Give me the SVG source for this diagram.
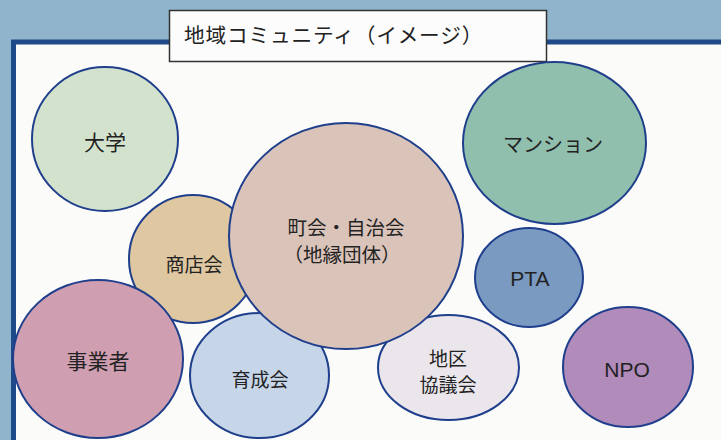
<svg xmlns="http://www.w3.org/2000/svg" width="721" height="440" viewBox="0 0 721 440">
  <style>
    .t { font-family: "Noto Sans CJK JP", "Liberation Sans", sans-serif; font-size: 20px; fill: #222; text-anchor: middle; dominant-baseline: central; }
    .l { font-family: "Liberation Sans", "Noto Sans CJK JP", sans-serif; font-size: 21px; fill: #222; text-anchor: middle; dominant-baseline: central; }
    .c { stroke: #1f3f8c; stroke-width: 2; }
  </style>
  <rect x="0" y="0" width="721" height="440" fill="#8fb4cb"/>
  <rect x="13.5" y="42" width="720" height="410" fill="#fbfbfa" stroke="#1f4a8a" stroke-width="5"/>
  <g id="title">
    <rect x="169.5" y="10.5" width="377" height="51" fill="#fdfcfc" stroke="#333" stroke-width="1.5"/>
    <text class="t" x="184" y="34" style="text-anchor:start;font-size:20.7px;letter-spacing:0.8px">地域コミュニティ（イメージ）</text>
  </g>
  <g id="daigaku">
    <ellipse class="c" cx="105" cy="139" rx="73" ry="72" fill="#d2e2cd"/>
    <text class="t" x="105" y="141" style="font-size:21px">大学</text>
  </g>
  <g id="mansion">
    <ellipse class="c" cx="554.5" cy="143" rx="91.5" ry="81" fill="#91bfae"/>
    <text class="t" x="553" y="143">マンション</text>
  </g>
  <g id="shotenkai">
    <ellipse class="c" cx="193" cy="259" rx="64" ry="64" fill="#dfc8a1"/>
    <text class="t" x="194" y="263" style="font-size:19px">商店会</text>
  </g>
  <g id="jigyosha">
    <ellipse class="c" cx="98" cy="359" rx="85" ry="79" fill="#cf9fb1"/>
    <text class="t" x="98" y="360" style="font-size:21px">事業者</text>
  </g>
  <g id="ikuseikai">
    <ellipse class="c" cx="259.5" cy="375.5" rx="69.5" ry="62.5" fill="#c6d5e8"/>
    <text class="t" x="260" y="378" style="font-size:19px">育成会</text>
  </g>
  <g id="chiku">
    <ellipse class="c" cx="448.5" cy="367.5" rx="70.5" ry="52.5" fill="#ebe6ec"/>
    <text class="t" x="448" y="357" style="font-size:19px">地区</text>
    <text class="t" x="448" y="383" style="font-size:19px">協議会</text>
  </g>
  <g id="chokai">
    <ellipse class="c" cx="346" cy="236" rx="117" ry="113" fill="#dac3b9"/>
    <text class="t" x="346" y="226" style="font-size:19.5px">町会・自治会</text>
    <text class="t" x="342" y="253" style="font-size:19.5px">（地縁団体）</text>
  </g>
  <g id="pta">
    <ellipse class="c" cx="529" cy="277.5" rx="54" ry="49.5" fill="#7a9ac2"/>
    <text class="l" x="530" y="278">PTA</text>
  </g>
  <g id="npo">
    <ellipse class="c" cx="628" cy="367" rx="65" ry="60" fill="#b18bb9"/>
    <text class="l" x="627" y="369">NPO</text>
  </g>
  <g id="connectors"></g>
</svg>
